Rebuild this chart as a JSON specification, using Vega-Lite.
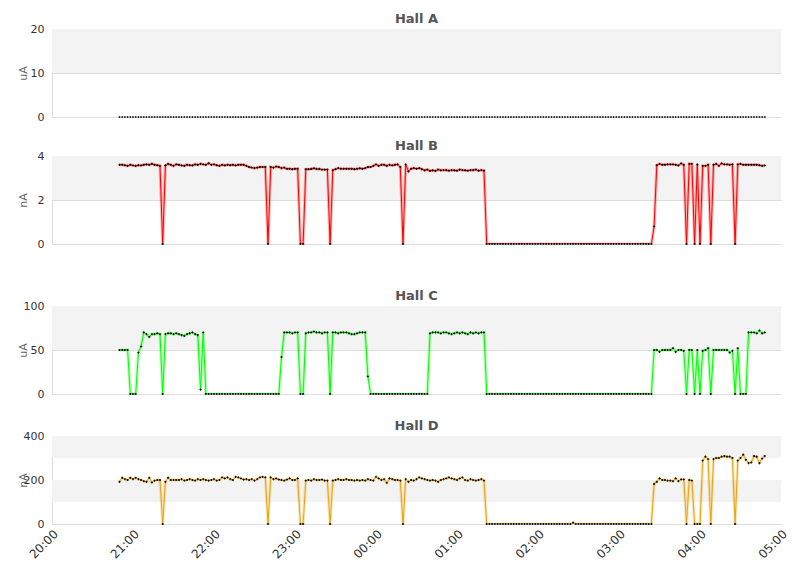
{
  "$schema": "https://vega.github.io/schema/vega-lite/v6.json",
  "padding": {"left": 17, "top": 13, "right": 5, "bottom": 5},
  "datasets": {
    "readings": [
      {"t":"2024-01-01T20:50","a":0,"b":3.6,"c":50,"d":192},
      {"t":"2024-01-01T20:52","a":0,"b":3.6,"c":50,"d":210},
      {"t":"2024-01-01T20:54","a":0,"b":3.58,"c":50,"d":204},
      {"t":"2024-01-01T20:56","a":0,"b":3.55,"c":50,"d":200},
      {"t":"2024-01-01T20:58","a":0,"b":3.6,"c":0,"d":210},
      {"t":"2024-01-01T21:00","a":0,"b":3.57,"c":0,"d":204},
      {"t":"2024-01-01T21:02","a":0,"b":3.55,"c":0,"d":210},
      {"t":"2024-01-01T21:04","a":0,"b":3.58,"c":47,"d":204},
      {"t":"2024-01-01T21:06","a":0,"b":3.57,"c":54,"d":200},
      {"t":"2024-01-01T21:08","a":0,"b":3.6,"c":70,"d":195},
      {"t":"2024-01-01T21:10","a":0,"b":3.62,"c":68,"d":192},
      {"t":"2024-01-01T21:12","a":0,"b":3.6,"c":65,"d":210},
      {"t":"2024-01-01T21:14","a":0,"b":3.64,"c":68,"d":189},
      {"t":"2024-01-01T21:16","a":0,"b":3.6,"c":68,"d":197},
      {"t":"2024-01-01T21:18","a":0,"b":3.58,"c":69,"d":200},
      {"t":"2024-01-01T21:20","a":0,"b":3.55,"c":68,"d":200},
      {"t":"2024-01-01T21:22","a":0,"b":0,"c":0,"d":0},
      {"t":"2024-01-01T21:24","a":0,"b":3.57,"c":68,"d":192},
      {"t":"2024-01-01T21:26","a":0,"b":3.64,"c":69,"d":210},
      {"t":"2024-01-01T21:28","a":0,"b":3.6,"c":69,"d":200},
      {"t":"2024-01-01T21:30","a":0,"b":3.55,"c":68,"d":200},
      {"t":"2024-01-01T21:32","a":0,"b":3.62,"c":69,"d":200},
      {"t":"2024-01-01T21:34","a":0,"b":3.6,"c":68,"d":200},
      {"t":"2024-01-01T21:36","a":0,"b":3.57,"c":67,"d":204},
      {"t":"2024-01-01T21:38","a":0,"b":3.55,"c":66,"d":197},
      {"t":"2024-01-01T21:40","a":0,"b":3.6,"c":68,"d":200},
      {"t":"2024-01-01T21:42","a":0,"b":3.58,"c":69,"d":204},
      {"t":"2024-01-01T21:44","a":0,"b":3.57,"c":70,"d":200},
      {"t":"2024-01-01T21:46","a":0,"b":3.62,"c":68,"d":197},
      {"t":"2024-01-01T21:48","a":0,"b":3.6,"c":67,"d":204},
      {"t":"2024-01-01T21:50","a":0,"b":3.64,"c":5,"d":200},
      {"t":"2024-01-01T21:52","a":0,"b":3.62,"c":70,"d":204},
      {"t":"2024-01-01T21:54","a":0,"b":3.6,"c":0,"d":200},
      {"t":"2024-01-01T21:56","a":0,"b":3.67,"c":0,"d":197},
      {"t":"2024-01-01T21:58","a":0,"b":3.6,"c":0,"d":200},
      {"t":"2024-01-01T22:00","a":0,"b":3.62,"c":0,"d":204},
      {"t":"2024-01-01T22:02","a":0,"b":3.58,"c":0,"d":197},
      {"t":"2024-01-01T22:04","a":0,"b":3.55,"c":0,"d":200},
      {"t":"2024-01-01T22:06","a":0,"b":3.6,"c":0,"d":212},
      {"t":"2024-01-01T22:08","a":0,"b":3.57,"c":0,"d":207},
      {"t":"2024-01-01T22:10","a":0,"b":3.6,"c":0,"d":212},
      {"t":"2024-01-01T22:12","a":0,"b":3.58,"c":0,"d":204},
      {"t":"2024-01-01T22:14","a":0,"b":3.6,"c":0,"d":200},
      {"t":"2024-01-01T22:16","a":0,"b":3.57,"c":0,"d":214},
      {"t":"2024-01-01T22:18","a":0,"b":3.6,"c":0,"d":212},
      {"t":"2024-01-01T22:20","a":0,"b":3.6,"c":0,"d":207},
      {"t":"2024-01-01T22:22","a":0,"b":3.6,"c":0,"d":202},
      {"t":"2024-01-01T22:24","a":0,"b":3.55,"c":0,"d":204},
      {"t":"2024-01-01T22:26","a":0,"b":3.5,"c":0,"d":200},
      {"t":"2024-01-01T22:28","a":0,"b":3.47,"c":0,"d":204},
      {"t":"2024-01-01T22:30","a":0,"b":3.45,"c":0,"d":197},
      {"t":"2024-01-01T22:32","a":0,"b":3.47,"c":0,"d":204},
      {"t":"2024-01-01T22:34","a":0,"b":3.5,"c":0,"d":212},
      {"t":"2024-01-01T22:36","a":0,"b":3.5,"c":0,"d":214},
      {"t":"2024-01-01T22:38","a":0,"b":3.5,"c":0,"d":212},
      {"t":"2024-01-01T22:40","a":0,"b":0,"c":0,"d":0},
      {"t":"2024-01-01T22:42","a":0,"b":3.5,"c":0,"d":212},
      {"t":"2024-01-01T22:44","a":0,"b":3.47,"c":0,"d":204},
      {"t":"2024-01-01T22:46","a":0,"b":3.52,"c":0,"d":207},
      {"t":"2024-01-01T22:48","a":0,"b":3.5,"c":0,"d":202},
      {"t":"2024-01-01T22:50","a":0,"b":3.45,"c":42,"d":200},
      {"t":"2024-01-01T22:52","a":0,"b":3.47,"c":70,"d":197},
      {"t":"2024-01-01T22:54","a":0,"b":3.42,"c":70,"d":202},
      {"t":"2024-01-01T22:56","a":0,"b":3.42,"c":70,"d":207},
      {"t":"2024-01-01T22:58","a":0,"b":3.4,"c":69,"d":200},
      {"t":"2024-01-01T23:00","a":0,"b":3.42,"c":70,"d":200},
      {"t":"2024-01-01T23:02","a":0,"b":3.42,"c":70,"d":207},
      {"t":"2024-01-01T23:04","a":0,"b":0,"c":0,"d":0},
      {"t":"2024-01-01T23:06","a":0,"b":0,"c":0,"d":0},
      {"t":"2024-01-01T23:08","a":0,"b":3.4,"c":69,"d":197},
      {"t":"2024-01-01T23:10","a":0,"b":3.4,"c":70,"d":200},
      {"t":"2024-01-01T23:12","a":0,"b":3.41,"c":70,"d":197},
      {"t":"2024-01-01T23:14","a":0,"b":3.44,"c":71,"d":204},
      {"t":"2024-01-01T23:16","a":0,"b":3.41,"c":70,"d":200},
      {"t":"2024-01-01T23:18","a":0,"b":3.41,"c":70,"d":200},
      {"t":"2024-01-01T23:20","a":0,"b":3.38,"c":69,"d":202},
      {"t":"2024-01-01T23:22","a":0,"b":3.38,"c":70,"d":197},
      {"t":"2024-01-01T23:24","a":0,"b":3.38,"c":70,"d":197},
      {"t":"2024-01-01T23:26","a":0,"b":0,"c":0,"d":0},
      {"t":"2024-01-01T23:28","a":0,"b":3.36,"c":70,"d":197},
      {"t":"2024-01-01T23:30","a":0,"b":3.4,"c":70,"d":200},
      {"t":"2024-01-01T23:32","a":0,"b":3.45,"c":69,"d":204},
      {"t":"2024-01-01T23:34","a":0,"b":3.42,"c":70,"d":200},
      {"t":"2024-01-01T23:36","a":0,"b":3.42,"c":70,"d":200},
      {"t":"2024-01-01T23:38","a":0,"b":3.42,"c":70,"d":204},
      {"t":"2024-01-01T23:40","a":0,"b":3.42,"c":69,"d":200},
      {"t":"2024-01-01T23:42","a":0,"b":3.42,"c":68,"d":200},
      {"t":"2024-01-01T23:44","a":0,"b":3.4,"c":68,"d":197},
      {"t":"2024-01-01T23:46","a":0,"b":3.42,"c":69,"d":200},
      {"t":"2024-01-01T23:48","a":0,"b":3.44,"c":70,"d":197},
      {"t":"2024-01-01T23:50","a":0,"b":3.42,"c":70,"d":200},
      {"t":"2024-01-01T23:52","a":0,"b":3.45,"c":70,"d":197},
      {"t":"2024-01-01T23:54","a":0,"b":3.5,"c":20,"d":204},
      {"t":"2024-01-01T23:56","a":0,"b":3.5,"c":0,"d":200},
      {"t":"2024-01-01T23:58","a":0,"b":3.55,"c":0,"d":197},
      {"t":"2024-01-02T00:00","a":0,"b":3.62,"c":0,"d":214},
      {"t":"2024-01-02T00:02","a":0,"b":3.55,"c":0,"d":207},
      {"t":"2024-01-02T00:04","a":0,"b":3.6,"c":0,"d":200},
      {"t":"2024-01-02T00:06","a":0,"b":3.6,"c":0,"d":204},
      {"t":"2024-01-02T00:08","a":0,"b":3.55,"c":0,"d":187},
      {"t":"2024-01-02T00:10","a":0,"b":3.6,"c":0,"d":207},
      {"t":"2024-01-02T00:12","a":0,"b":3.57,"c":0,"d":204},
      {"t":"2024-01-02T00:14","a":0,"b":3.6,"c":0,"d":200},
      {"t":"2024-01-02T00:16","a":0,"b":3.62,"c":0,"d":200},
      {"t":"2024-01-02T00:18","a":0,"b":3.5,"c":0,"d":197},
      {"t":"2024-01-02T00:20","a":0,"b":0,"c":0,"d":0},
      {"t":"2024-01-02T00:22","a":0,"b":3.62,"c":0,"d":204},
      {"t":"2024-01-02T00:24","a":0,"b":3.3,"c":0,"d":192},
      {"t":"2024-01-02T00:26","a":0,"b":3.42,"c":0,"d":200},
      {"t":"2024-01-02T00:28","a":0,"b":3.45,"c":0,"d":197},
      {"t":"2024-01-02T00:30","a":0,"b":3.42,"c":0,"d":204},
      {"t":"2024-01-02T00:32","a":0,"b":3.45,"c":0,"d":212},
      {"t":"2024-01-02T00:34","a":0,"b":3.4,"c":0,"d":207},
      {"t":"2024-01-02T00:36","a":0,"b":3.35,"c":0,"d":204},
      {"t":"2024-01-02T00:38","a":0,"b":3.38,"c":0,"d":200},
      {"t":"2024-01-02T00:40","a":0,"b":3.32,"c":69,"d":197},
      {"t":"2024-01-02T00:42","a":0,"b":3.35,"c":70,"d":200},
      {"t":"2024-01-02T00:44","a":0,"b":3.32,"c":70,"d":197},
      {"t":"2024-01-02T00:46","a":0,"b":3.38,"c":70,"d":192},
      {"t":"2024-01-02T00:48","a":0,"b":3.35,"c":69,"d":200},
      {"t":"2024-01-02T00:50","a":0,"b":3.36,"c":70,"d":204},
      {"t":"2024-01-02T00:52","a":0,"b":3.36,"c":70,"d":207},
      {"t":"2024-01-02T00:54","a":0,"b":3.33,"c":69,"d":212},
      {"t":"2024-01-02T00:56","a":0,"b":3.36,"c":68,"d":207},
      {"t":"2024-01-02T00:58","a":0,"b":3.35,"c":69,"d":204},
      {"t":"2024-01-02T01:00","a":0,"b":3.33,"c":70,"d":200},
      {"t":"2024-01-02T01:02","a":0,"b":3.38,"c":69,"d":207},
      {"t":"2024-01-02T01:04","a":0,"b":3.36,"c":70,"d":212},
      {"t":"2024-01-02T01:06","a":0,"b":3.35,"c":69,"d":200},
      {"t":"2024-01-02T01:08","a":0,"b":3.33,"c":68,"d":197},
      {"t":"2024-01-02T01:10","a":0,"b":3.36,"c":70,"d":204},
      {"t":"2024-01-02T01:12","a":0,"b":3.36,"c":69,"d":200},
      {"t":"2024-01-02T01:14","a":0,"b":3.38,"c":70,"d":197},
      {"t":"2024-01-02T01:16","a":0,"b":3.33,"c":69,"d":200},
      {"t":"2024-01-02T01:18","a":0,"b":3.36,"c":70,"d":204},
      {"t":"2024-01-02T01:20","a":0,"b":3.33,"c":70,"d":197},
      {"t":"2024-01-02T01:22","a":0,"b":0,"c":0,"d":0},
      {"t":"2024-01-02T01:24","a":0,"b":0,"c":0,"d":0},
      {"t":"2024-01-02T01:26","a":0,"b":0,"c":0,"d":0},
      {"t":"2024-01-02T01:28","a":0,"b":0,"c":0,"d":0},
      {"t":"2024-01-02T01:30","a":0,"b":0,"c":0,"d":0},
      {"t":"2024-01-02T01:32","a":0,"b":0,"c":0,"d":0},
      {"t":"2024-01-02T01:34","a":0,"b":0,"c":0,"d":0},
      {"t":"2024-01-02T01:36","a":0,"b":0,"c":0,"d":0},
      {"t":"2024-01-02T01:38","a":0,"b":0,"c":0,"d":0},
      {"t":"2024-01-02T01:40","a":0,"b":0,"c":0,"d":0},
      {"t":"2024-01-02T01:42","a":0,"b":0,"c":0,"d":0},
      {"t":"2024-01-02T01:44","a":0,"b":0,"c":0,"d":0},
      {"t":"2024-01-02T01:46","a":0,"b":0,"c":0,"d":0},
      {"t":"2024-01-02T01:48","a":0,"b":0,"c":0,"d":0},
      {"t":"2024-01-02T01:50","a":0,"b":0,"c":0,"d":0},
      {"t":"2024-01-02T01:52","a":0,"b":0,"c":0,"d":0},
      {"t":"2024-01-02T01:54","a":0,"b":0,"c":0,"d":0},
      {"t":"2024-01-02T01:56","a":0,"b":0,"c":0,"d":0},
      {"t":"2024-01-02T01:58","a":0,"b":0,"c":0,"d":0},
      {"t":"2024-01-02T02:00","a":0,"b":0,"c":0,"d":0},
      {"t":"2024-01-02T02:02","a":0,"b":0,"c":0,"d":0},
      {"t":"2024-01-02T02:04","a":0,"b":0,"c":0,"d":0},
      {"t":"2024-01-02T02:06","a":0,"b":0,"c":0,"d":0},
      {"t":"2024-01-02T02:08","a":0,"b":0,"c":0,"d":0},
      {"t":"2024-01-02T02:10","a":0,"b":0,"c":0,"d":0},
      {"t":"2024-01-02T02:12","a":0,"b":0,"c":0,"d":0},
      {"t":"2024-01-02T02:14","a":0,"b":0,"c":0,"d":0},
      {"t":"2024-01-02T02:16","a":0,"b":0,"c":0,"d":0},
      {"t":"2024-01-02T02:18","a":0,"b":0,"c":0,"d":0},
      {"t":"2024-01-02T02:20","a":0,"b":0,"c":0,"d":0},
      {"t":"2024-01-02T02:22","a":0,"b":0,"c":0,"d":0},
      {"t":"2024-01-02T02:24","a":0,"b":0,"c":0,"d":0},
      {"t":"2024-01-02T02:26","a":0,"b":0,"c":0,"d":6},
      {"t":"2024-01-02T02:28","a":0,"b":0,"c":0,"d":0},
      {"t":"2024-01-02T02:30","a":0,"b":0,"c":0,"d":0},
      {"t":"2024-01-02T02:32","a":0,"b":0,"c":0,"d":0},
      {"t":"2024-01-02T02:34","a":0,"b":0,"c":0,"d":0},
      {"t":"2024-01-02T02:36","a":0,"b":0,"c":0,"d":0},
      {"t":"2024-01-02T02:38","a":0,"b":0,"c":0,"d":0},
      {"t":"2024-01-02T02:40","a":0,"b":0,"c":0,"d":0},
      {"t":"2024-01-02T02:42","a":0,"b":0,"c":0,"d":0},
      {"t":"2024-01-02T02:44","a":0,"b":0,"c":0,"d":0},
      {"t":"2024-01-02T02:46","a":0,"b":0,"c":0,"d":0},
      {"t":"2024-01-02T02:48","a":0,"b":0,"c":0,"d":0},
      {"t":"2024-01-02T02:50","a":0,"b":0,"c":0,"d":0},
      {"t":"2024-01-02T02:52","a":0,"b":0,"c":0,"d":0},
      {"t":"2024-01-02T02:54","a":0,"b":0,"c":0,"d":0},
      {"t":"2024-01-02T02:56","a":0,"b":0,"c":0,"d":0},
      {"t":"2024-01-02T02:58","a":0,"b":0,"c":0,"d":0},
      {"t":"2024-01-02T03:00","a":0,"b":0,"c":0,"d":0},
      {"t":"2024-01-02T03:02","a":0,"b":0,"c":0,"d":0},
      {"t":"2024-01-02T03:04","a":0,"b":0,"c":0,"d":0},
      {"t":"2024-01-02T03:06","a":0,"b":0,"c":0,"d":0},
      {"t":"2024-01-02T03:08","a":0,"b":0,"c":0,"d":0},
      {"t":"2024-01-02T03:10","a":0,"b":0,"c":0,"d":0},
      {"t":"2024-01-02T03:12","a":0,"b":0,"c":0,"d":0},
      {"t":"2024-01-02T03:14","a":0,"b":0,"c":0,"d":0},
      {"t":"2024-01-02T03:16","a":0,"b":0,"c":0,"d":0},
      {"t":"2024-01-02T03:18","a":0,"b":0,"c":0,"d":0},
      {"t":"2024-01-02T03:20","a":0,"b":0,"c":0,"d":0},
      {"t":"2024-01-02T03:22","a":0,"b":0,"c":0,"d":0},
      {"t":"2024-01-02T03:24","a":0,"b":0,"c":0,"d":0},
      {"t":"2024-01-02T03:26","a":0,"b":0.8,"c":50,"d":182},
      {"t":"2024-01-02T03:28","a":0,"b":3.58,"c":50,"d":192},
      {"t":"2024-01-02T03:30","a":0,"b":3.64,"c":48,"d":207},
      {"t":"2024-01-02T03:32","a":0,"b":3.6,"c":50,"d":200},
      {"t":"2024-01-02T03:34","a":0,"b":3.6,"c":50,"d":200},
      {"t":"2024-01-02T03:36","a":0,"b":3.62,"c":50,"d":197},
      {"t":"2024-01-02T03:38","a":0,"b":3.62,"c":50,"d":197},
      {"t":"2024-01-02T03:40","a":0,"b":3.62,"c":52,"d":195},
      {"t":"2024-01-02T03:42","a":0,"b":3.6,"c":48,"d":207},
      {"t":"2024-01-02T03:44","a":0,"b":3.57,"c":50,"d":195},
      {"t":"2024-01-02T03:46","a":0,"b":3.66,"c":50,"d":203},
      {"t":"2024-01-02T03:48","a":0,"b":3.6,"c":49,"d":203},
      {"t":"2024-01-02T03:50","a":0,"b":0,"c":0,"d":0},
      {"t":"2024-01-02T03:52","a":0,"b":3.64,"c":50,"d":200},
      {"t":"2024-01-02T03:54","a":0,"b":3.64,"c":50,"d":197},
      {"t":"2024-01-02T03:56","a":0,"b":0,"c":0,"d":0},
      {"t":"2024-01-02T03:58","a":0,"b":3.62,"c":50,"d":0},
      {"t":"2024-01-02T04:00","a":0,"b":0,"c":0,"d":0},
      {"t":"2024-01-02T04:02","a":0,"b":3.55,"c":49,"d":288},
      {"t":"2024-01-02T04:04","a":0,"b":3.55,"c":50,"d":306},
      {"t":"2024-01-02T04:06","a":0,"b":3.6,"c":52,"d":295},
      {"t":"2024-01-02T04:08","a":0,"b":0,"c":0,"d":0},
      {"t":"2024-01-02T04:10","a":0,"b":3.6,"c":50,"d":295},
      {"t":"2024-01-02T04:12","a":0,"b":3.64,"c":50,"d":300},
      {"t":"2024-01-02T04:14","a":0,"b":3.55,"c":50,"d":300},
      {"t":"2024-01-02T04:16","a":0,"b":3.66,"c":50,"d":306},
      {"t":"2024-01-02T04:18","a":0,"b":3.62,"c":50,"d":309},
      {"t":"2024-01-02T04:20","a":0,"b":3.62,"c":50,"d":306},
      {"t":"2024-01-02T04:22","a":0,"b":3.6,"c":47,"d":306},
      {"t":"2024-01-02T04:24","a":0,"b":3.62,"c":49,"d":300},
      {"t":"2024-01-02T04:26","a":0,"b":0,"c":0,"d":0},
      {"t":"2024-01-02T04:28","a":0,"b":3.62,"c":52,"d":288},
      {"t":"2024-01-02T04:30","a":0,"b":3.64,"c":0,"d":300},
      {"t":"2024-01-02T04:32","a":0,"b":3.6,"c":0,"d":315},
      {"t":"2024-01-02T04:34","a":0,"b":3.6,"c":0,"d":292},
      {"t":"2024-01-02T04:36","a":0,"b":3.6,"c":70,"d":277},
      {"t":"2024-01-02T04:38","a":0,"b":3.6,"c":70,"d":280},
      {"t":"2024-01-02T04:40","a":0,"b":3.6,"c":70,"d":309},
      {"t":"2024-01-02T04:42","a":0,"b":3.6,"c":69,"d":306},
      {"t":"2024-01-02T04:44","a":0,"b":3.58,"c":72,"d":277},
      {"t":"2024-01-02T04:46","a":0,"b":3.55,"c":69,"d":297},
      {"t":"2024-01-02T04:48","a":0,"b":3.57,"c":70,"d":309}
    ]
  },
  "spacing": 18,
  "vconcat": [
    {
      "title": "Hall A",
      "width": 729,
      "height": 88,
      "layer": [
        {
          "data": {"values": [{"lo": 10, "hi": 20}]},
          "mark": {"type": "rect", "color": "#f3f3f3"},
          "encoding": {
            "y": {"field": "lo", "type": "quantitative", "title": "uA", "scale": {"domain": [0, 20], "nice": false}, "axis": {"values": [0, 10, 20]}},
            "y2": {"field": "hi"}
          }
        },
        {
          "data": {"name": "readings"},
          "mark": {"type": "point", "shape": "cross", "filled": true, "color": "black", "size": 4, "opacity": 0.9},
          "encoding": {
            "x": {"field": "t", "type": "temporal", "axis": null, "scale": {"domain": [{"year": 2024, "month": 1, "date": 1, "hours": 20}, {"year": 2024, "month": 1, "date": 2, "hours": 5}], "nice": false}},
            "y": {"field": "a", "type": "quantitative", "title": "uA"}
          }
        }
      ]
    },
    {
      "title": "Hall B",
      "width": 729,
      "height": 88,
      "layer": [
        {
          "data": {"values": [{"lo": 2, "hi": 4}]},
          "mark": {"type": "rect", "color": "#f3f3f3"},
          "encoding": {
            "y": {"field": "lo", "type": "quantitative", "title": "nA", "scale": {"domain": [0, 4], "nice": false}, "axis": {"values": [0, 2, 4]}},
            "y2": {"field": "hi"}
          }
        },
        {
          "data": {"name": "readings"},
          "mark": {"type": "line", "color": "#ff0000", "strokeWidth": 3, "opacity": 0.3, "clip": true},
          "encoding": {
            "x": {"field": "t", "type": "temporal", "scale": {"domain": [{"year": 2024, "month": 1, "date": 1, "hours": 20}, {"year": 2024, "month": 1, "date": 2, "hours": 5}], "nice": false},
              "axis": {"labels": false, "domain": false, "ticks": false, "grid": false, "title": null, "minExtent": 28, "maxExtent": 28}},
            "y": {"field": "b", "type": "quantitative", "title": "nA"}
          }
        },
        {
          "data": {"name": "readings"},
          "mark": {"type": "line", "color": "#ff0000", "strokeWidth": 1, "clip": true},
          "encoding": {
            "x": {"field": "t", "type": "temporal"},
            "y": {"field": "b", "type": "quantitative", "title": "nA"}
          }
        },
        {
          "data": {"name": "readings"},
          "mark": {"type": "point", "shape": "cross", "filled": true, "color": "black", "size": 5, "opacity": 1},
          "encoding": {
            "x": {"field": "t", "type": "temporal"},
            "y": {"field": "b", "type": "quantitative", "title": "nA"}
          }
        }
      ]
    },
    {
      "title": "Hall C",
      "width": 729,
      "height": 88,
      "layer": [
        {
          "data": {"values": [{"lo": 50, "hi": 100}]},
          "mark": {"type": "rect", "color": "#f3f3f3"},
          "encoding": {
            "y": {"field": "lo", "type": "quantitative", "title": "uA", "scale": {"domain": [0, 100], "nice": false}, "axis": {"values": [0, 50, 100]}},
            "y2": {"field": "hi"}
          }
        },
        {
          "data": {"name": "readings"},
          "mark": {"type": "line", "color": "#00ff00", "strokeWidth": 3, "opacity": 0.3, "clip": true},
          "encoding": {
            "x": {"field": "t", "type": "temporal", "scale": {"domain": [{"year": 2024, "month": 1, "date": 1, "hours": 20}, {"year": 2024, "month": 1, "date": 2, "hours": 5}], "nice": false},
              "axis": {"labels": false, "domain": false, "ticks": false, "grid": false, "title": null, "minExtent": 8, "maxExtent": 8}},
            "y": {"field": "c", "type": "quantitative", "title": "uA"}
          }
        },
        {
          "data": {"name": "readings"},
          "mark": {"type": "line", "color": "#00ff00", "strokeWidth": 1, "clip": true},
          "encoding": {
            "x": {"field": "t", "type": "temporal"},
            "y": {"field": "c", "type": "quantitative", "title": "uA"}
          }
        },
        {
          "data": {"name": "readings"},
          "mark": {"type": "point", "shape": "cross", "filled": true, "color": "black", "size": 5, "opacity": 1},
          "encoding": {
            "x": {"field": "t", "type": "temporal"},
            "y": {"field": "c", "type": "quantitative", "title": "uA"}
          }
        }
      ]
    },
    {
      "title": "Hall D",
      "width": 729,
      "height": 88,
      "layer": [
        {
          "data": {"values": [{"lo": 100, "hi": 200}, {"lo": 300, "hi": 400}]},
          "mark": {"type": "rect", "color": "#f3f3f3"},
          "encoding": {
            "y": {"field": "lo", "type": "quantitative", "title": "nA", "scale": {"domain": [0, 400], "nice": false}, "axis": {"values": [0, 100, 200, 300, 400]}},
            "y2": {"field": "hi"}
          }
        },
        {
          "data": {"name": "readings"},
          "mark": {"type": "line", "color": "#e8a510", "strokeWidth": 3, "opacity": 0.3, "clip": true},
          "encoding": {
            "x": {
              "field": "t", "type": "temporal", "title": null,
              "scale": {"domain": [{"year": 2024, "month": 1, "date": 1, "hours": 20}, {"year": 2024, "month": 1, "date": 2, "hours": 5}], "nice": false},
              "axis": {"format": "%H:%M", "tickCount": 9, "labelAngle": -45, "labelFontSize": 12, "grid": false, "labelPadding": 4}
            },
            "y": {"field": "d", "type": "quantitative", "title": "nA"}
          }
        },
        {
          "data": {"name": "readings"},
          "mark": {"type": "line", "color": "#e8a510", "strokeWidth": 1, "clip": true},
          "encoding": {
            "x": {"field": "t", "type": "temporal"},
            "y": {"field": "d", "type": "quantitative", "title": "nA"}
          }
        },
        {
          "data": {"name": "readings"},
          "mark": {"type": "point", "shape": "cross", "filled": true, "color": "black", "size": 5, "opacity": 1},
          "encoding": {
            "x": {"field": "t", "type": "temporal"},
            "y": {"field": "d", "type": "quantitative", "title": "nA"}
          }
        }
      ]
    }
  ],
  "config": {
    "font": "DejaVu Sans",
    "view": {"stroke": null},
    "title": {"fontSize": 13, "fontWeight": "bold", "color": "#555555", "offset": -3, "anchor": "middle", "frame": "group"},
    "axis": {
      "labelFontSize": 11,
      "labelColor": "#333333",
      "titleFontSize": 11,
      "titleFontWeight": "normal",
      "titleColor": "#666666",
      "domainColor": "#dddddd",
      "gridColor": "#dddddd",
      "ticks": false
    },
    "axisY": {"grid": true, "labelPadding": 8, "titleX": -24}
  }
}
